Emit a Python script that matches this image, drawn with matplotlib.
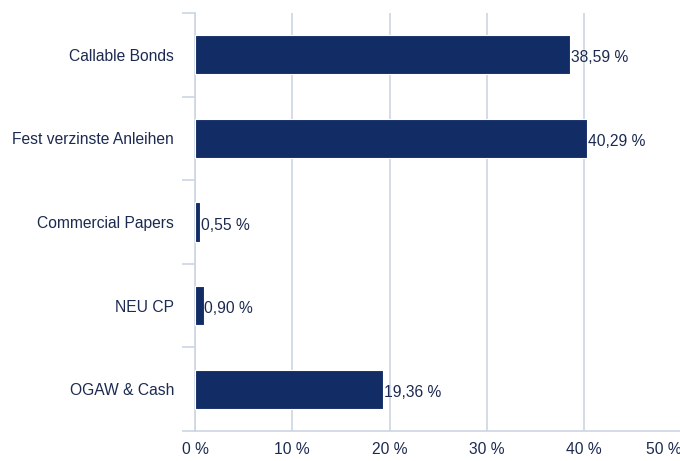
import matplotlib
matplotlib.use("Agg")
import matplotlib.pyplot as plt
import matplotlib.transforms as mtransforms
import numpy as np

categories = ["Callable Bonds", "Fest verzinste Anleihen", "Commercial Papers", "NEU CP", "OGAW & Cash"]
values = [38.59, 40.29, 0.55, 0.90, 19.36]
value_labels = ["38,59 %", "40,29 %", "0,55 %", "0,90 %", "19,36 %"]
x_ticks = [0, 10, 20, 30, 40, 50]
x_tick_labels = ["0 %", "10 %", "20 %", "30 %", "40 %", "50 %"]

bar_color = "#122c65"
grid_color = "#ccd6e3"
text_color = "#1c2a50"

plt.rcParams["font.family"] = ["Liberation Sans", "DejaVu Sans"]

W, H = 680, 461
fig = plt.figure(figsize=(W / 100, H / 100), dpi=100)
# 50 % sits just past the right edge of the picture, as in the original
ax = fig.add_axes([195 / W, 1 - 431 / H, (681.5 - 195) / W, (431 - 13) / H])

y = np.arange(len(categories))
ax.barh(y, values, height=0.47, color=bar_color, edgecolor="white", linewidth=0.8, zorder=3)
lab_off = mtransforms.ScaledTranslation(0, -3 / 100, fig.dpi_scale_trans)
for yi, v, lab in zip(y, values, value_labels):
    ax.text(v + 0.05, yi, lab, va="center", ha="left", fontsize=11.25, color=text_color,
            zorder=4, transform=ax.transData + lab_off)

ax.set_xlim(0, 50)
ax.set_ylim(len(categories) - 0.5, -0.5)
ax.set_xticks(x_ticks)
ax.set_xticklabels(x_tick_labels, fontsize=11.25, color=text_color)
last = ax.get_xticklabels()[-1]
last.set_horizontalalignment("right")
last.set_transform(last.get_transform() + mtransforms.ScaledTranslation(-4 / 100, 0, fig.dpi_scale_trans))
ax.set_yticks(y)
ax.set_yticklabels(categories, fontsize=11.25, color=text_color)
ax.set_yticks(np.arange(-0.5, len(categories)), minor=True)

ax.tick_params(axis="x", length=0, pad=8)
ax.tick_params(axis="y", which="major", length=0, pad=15)
ax.tick_params(axis="y", which="minor", length=9.4, width=1.2, color=grid_color)

ax.grid(axis="x", color=grid_color, linewidth=1.2, zorder=0)
for s in ["top", "right"]:
    ax.spines[s].set_visible(False)
ax.spines["left"].set_color(grid_color)
ax.spines["bottom"].set_color(grid_color)
ax.spines["left"].set_linewidth(1.2)
ax.spines["bottom"].set_linewidth(1.2)

fig.savefig("out.png", dpi=100)
